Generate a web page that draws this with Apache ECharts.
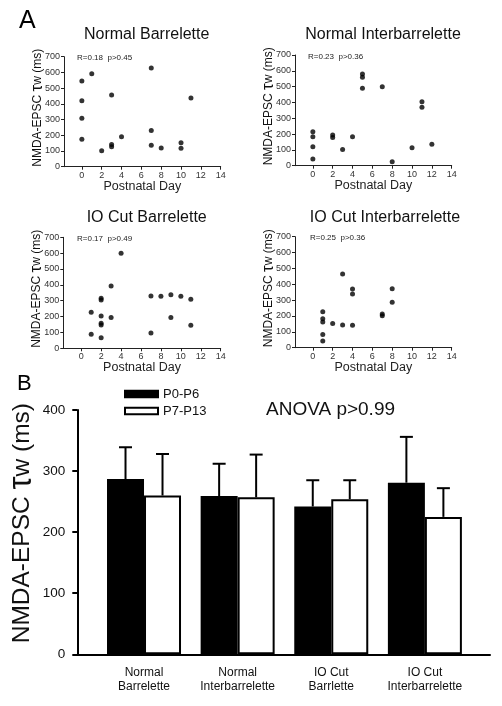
<!DOCTYPE html>
<html><head><meta charset="utf-8">
<script src="https://cdn.jsdelivr.net/npm/echarts@6/dist/echarts.min.js"></script>
<style>html,body{margin:0;padding:0;background:#fff}#c{width:502px;height:706px}</style>
</head><body><div id="c"></div>
<script>
// ---- Panel A data: [postnatal day, tau_w (ms)] ----
const normalBarrelette = [[0,545],[0,420],[0,308],[0,174],[1,592],[2,102],[3,456],[3,142],[3,127],[4,191],[7,628],[7,231],[7,136],[8,119],[10,153],[10,117],[11,437]];
const normalInterbarrelette = [[0,215],[0,183],[0,120],[0,42],[2,194],[2,179],[3,103],[4,183],[5,580],[5,559],[5,489],[7,500],[8,25],[10,114],[11,405],[11,369],[12,135]];
const ioCutBarrelette = [[1,227],[1,88],[2,315],[2,305],[2,204],[2,158],[2,147],[2,67],[3,393],[3,195],[4,599],[7,330],[7,97],[8,328],[9,338],[9,195],[10,328],[11,309],[11,145]];
const ioCutInterbarrelette = [[1,227],[1,183],[1,162],[1,84],[1,42],[2,153],[3,465],[3,143],[4,370],[4,338],[4,141],[7,212],[7,202],[8,372],[8,286]];
const scatterTitles = ['Normal Barrelette','Normal Interbarrelette','IO Cut Barrelette','IO Cut Interbarrelette'];
const statTexts = ['R=0.18  p>0.45','R=0.23  p>0.36','R=0.17  p>0.49','R=0.25  p>0.36'];
const dayTicks = [0,2,4,6,8,10,12,14];

// ---- Panel B data ----
const barCategories = ['Normal\nBarrelette','Normal\nInterbarrelette','IO Cut\nBarrlette','IO Cut\nInterbarrelette'];
const p0p6Mean = [287,259,242,281];
const p0p6ErrTop = [339,312,285,356];
const p7p13Mean = [260,257,254,225];
const p7p13ErrTop = [328,327,285,272];

const scatterSets = [normalBarrelette, normalInterbarrelette, ioCutBarrelette, ioCutInterbarrelette];
const gb = {containLabel:false, outerBoundsMode:'none'};
const grids = [
  Object.assign({left:64, top:56.7, width:156.7, height:110}, gb),
  Object.assign({left:295, top:55, width:156.7, height:110.7}, gb),
  Object.assign({left:63.3, top:237.3, width:157.4, height:111}, gb),
  Object.assign({left:295, top:236.7, width:156.7, height:111}, gb),
  // grid 4: visible axes frame of panel B
  Object.assign({left:77.3, top:410, right:12, bottom:51.7}, gb),
  // grid 5: bars (category band area)
  Object.assign({left:97.2, top:410, right:30.3, bottom:51.7}, gb)
];
const titlePos = [[141.7,22],[378,22],[141.7,205],[380,205]];
const statPos = [[72,49],[303,48],[72,230],[305,229]];

const font = 'Arial, "Liberation Sans", Helvetica, sans-serif';

const xAxes = [], yAxes = [], series = [], titles = [];
for (let i=0;i<4;i++){
  xAxes.push({
    gridIndex:i, type:'value', min:-1.8, max:14,
    name:'Postnatal Day', nameLocation:'middle', nameGap:13, nameMoveOverlap:false,
    nameTextStyle:{fontSize:12.5, fontFamily:font, color:'#222'},
    axisLine:{onZero:false, lineStyle:{color:'#222', width:1}},
    axisTick:{show:true, customValues:dayTicks, length:3, lineStyle:{color:'#222'}},
    axisLabel:{customValues:dayTicks, fontSize:9, fontFamily:font, color:'#333', margin:4},
    splitLine:{show:false}
  });
  yAxes.push({
    gridIndex:i, type:'value', min:0, max:700, interval:100,
    name:'NMDA-EPSC {t|τ}w (ms)', nameLocation:'middle', nameGap:18, nameRotate:90, nameMoveOverlap:false,
    nameTextStyle:{fontSize:12, fontFamily:font, color:'#111', padding:[0,0,0,8],
      rich:{t:{fontSize:17, fontFamily:font, color:'#111'}}},
    axisLine:{show:true, onZero:false, lineStyle:{color:'#222', width:1}},
    axisTick:{show:true, length:3, lineStyle:{color:'#222'}},
    axisLabel:{fontSize:9, fontFamily:font, color:'#333', margin:4},
    splitLine:{show:false}
  });
  series.push({
    type:'scatter', xAxisIndex:i, yAxisIndex:i, data:scatterSets[i],
    symbol:'circle', symbolSize:5, itemStyle:{color:'#000'}, silent:true
  });
  titles.push({text:scatterTitles[i], left:titlePos[i][0], top:titlePos[i][1], textAlign:'center',
    textStyle:{fontSize:16, fontWeight:'normal', fontFamily:font, color:'#111'}});
  titles.push({text:statTexts[i], left:statPos[i][0], top:statPos[i][1],
    textStyle:{fontSize:8, fontWeight:'normal', fontFamily:font, color:'#222'}});
}
titles.push({text:'A', left:14, top:4, textStyle:{fontSize:25, fontWeight:'normal', fontFamily:font, color:'#000'}});
titles.push({text:'B', left:12, top:368, textStyle:{fontSize:22, fontWeight:'normal', fontFamily:font, color:'#000'}});
titles.push({text:'ANOVA p>0.99', left:261, top:395, textStyle:{fontSize:19, fontWeight:'normal', fontFamily:font, color:'#111'}});

// Panel B frame axes (grid 4)
xAxes.push({
  gridIndex:4, type:'value', min:0, max:1,
  axisLine:{onZero:false, lineStyle:{color:'#000', width:2}},
  axisTick:{show:false}, axisLabel:{show:false}, splitLine:{show:false}
});
yAxes.push({
  gridIndex:4, type:'value', min:0, max:400, interval:100,
  name:'NMDA-EPSC {t|τ}w (ms)', nameLocation:'middle', nameGap:39, nameRotate:90, nameMoveOverlap:false,
  nameTextStyle:{fontSize:24.5, fontFamily:font, color:'#111', padding:[0,0,0,18],
    rich:{t:{fontSize:33, fontFamily:font, color:'#111'}}},
  axisLine:{show:true, onZero:false, lineStyle:{color:'#000', width:2}},
  axisTick:{show:true, inside:false, length:5, lineStyle:{color:'#000', width:2}},
  axisLabel:{fontSize:13.5, fontFamily:font, color:'#111', margin:12},
  splitLine:{show:false}
});
// Panel B bar axes (grid 5)
xAxes.push({
  gridIndex:5, type:'category', data:barCategories, boundaryGap:true,
  axisLine:{show:false}, axisTick:{show:false},
  axisLabel:{fontSize:12, lineHeight:14.5, fontFamily:font, color:'#111', margin:11, interval:0},
  splitLine:{show:false}
});
yAxes.push({
  gridIndex:5, type:'value', min:0, max:400, interval:100, show:false,
  axisLine:{show:false}, axisTick:{show:false}, axisLabel:{show:false}, splitLine:{show:false}
});
const BW = 37;
series.push({
  name:'P0-P6', type:'bar', xAxisIndex:5, yAxisIndex:5, barWidth:BW, barGap:'0%',
  data:p0p6Mean,
  itemStyle:{color:'#000', borderColor:'#000', borderWidth:2}, silent:true
});
series.push({
  name:'P7-P13', type:'bar', xAxisIndex:5, yAxisIndex:5, barWidth:BW, barGap:'0%',
  data:p7p13Mean,
  itemStyle:{color:'#fff', borderColor:'#000', borderWidth:2}, silent:true
});
function errSeries(means, tops, side){
  return {
    type:'custom', xAxisIndex:5, yAxisIndex:5, silent:true, z:5,
    data:means.map((m,k)=>[k, m, tops[k]]),
    renderItem:(params, api)=>{
      const p0 = api.coord([api.value(0), api.value(1)]);
      const p1 = api.coord([api.value(0), api.value(2)]);
      const x = p0[0] + side*BW/2;
      const cap = 6.5;
      return {type:'group', children:[
        {type:'line', shape:{x1:x, y1:p0[1], x2:x, y2:p1[1]}, style:{stroke:'#000', lineWidth:2}},
        {type:'line', shape:{x1:x-cap, y1:p1[1], x2:x+cap, y2:p1[1]}, style:{stroke:'#000', lineWidth:2}}
      ]};
    }
  };
}
series.push(errSeries(p0p6Mean, p0p6ErrTop, -1));
series.push(errSeries(p7p13Mean, p7p13ErrTop, 1));

const chart = echarts.init(document.getElementById('c'), null, {renderer:'canvas'});
chart.setOption({
  backgroundColor:'#fff',
  animation:false,
  title:titles,
  legend:{
    data:['P0-P6','P7-P13'], orient:'vertical', left:124, top:387.5, padding:0,
    icon:'rect', itemWidth:33, itemHeight:6.5, itemGap:4,
    textStyle:{fontSize:13, fontFamily:font, color:'#111'},
    selectedMode:false
  },
  grid:grids,
  xAxis:xAxes,
  yAxis:yAxes,
  series:series
});
</script></body></html>
